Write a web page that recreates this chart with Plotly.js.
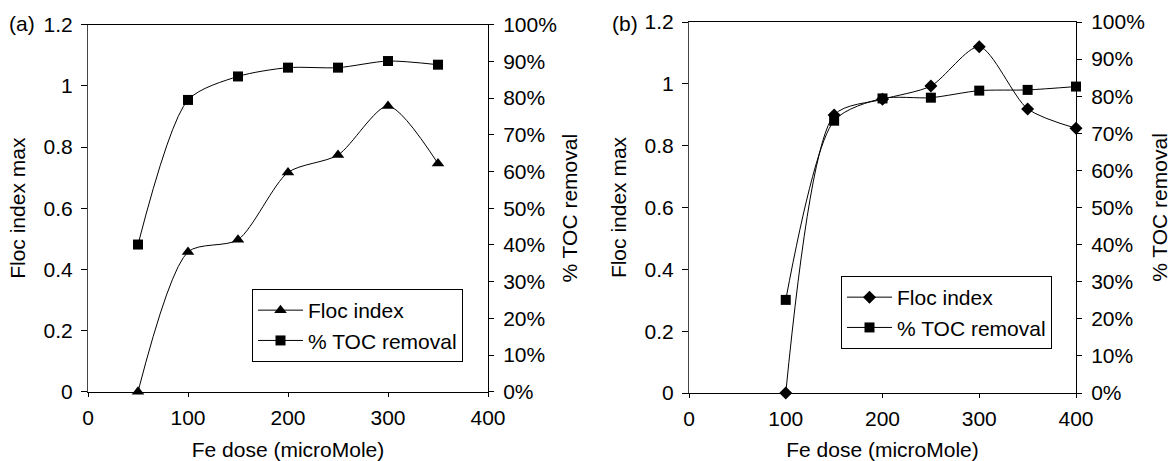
<!DOCTYPE html>
<html>
<head>
<meta charset="utf-8">
<script src="https://cdn.plot.ly/plotly-3.0.1.min.js"></script>
<style>html,body{margin:0;padding:0;background:#fff;}</style>
</head>
<body>
<div id="chart" style="width:1171px;height:461px;"></div>
<script>
// Panel (a)
const doseA = [50, 100, 150, 200, 250, 300, 350];
const flocA = [0, 0.457, 0.497, 0.717, 0.774, 0.934, 0.746];
const tocA  = [40.1, 79.5, 85.9, 88.3, 88.3, 90.1, 89.1];
// Panel (b)
const doseB = [100, 150, 200, 250, 300, 350, 400];
const flocB = [0, 0.899, 0.950, 0.993, 1.120, 0.919, 0.856];
const tocB  = [25.1, 73.4, 79.4, 79.6, 81.5, 81.7, 82.6];

const seriesNames = ['Floc index', '% TOC removal'];
const panelLabels = ['(a)', '(b)'];
const xTitle = 'Fe dose (microMole)';
const yTitle = 'Floc index max';
const y2Title = '% TOC removal';

const W = 1171, H = 461;
const FS = 21;
const FONT = 'Liberation Sans, Arial, Helvetica, sans-serif';
const lineStyle = {shape: 'spline', smoothing: 0.75, color: '#000', width: 1};

const traces = [
  {x: doseA, y: flocA, name: seriesNames[0], mode: 'lines+markers', line: lineStyle,
   marker: {symbol: 'triangle-up', size: 11, color: '#000'}, xaxis: 'x', yaxis: 'y',
   legend: 'legend', legendgroup: 'a1', cliponaxis: false},
  {x: doseA, y: tocA, name: seriesNames[1], mode: 'lines+markers', line: lineStyle,
   marker: {symbol: 'square', size: 10, color: '#000'}, xaxis: 'x', yaxis: 'y2',
   legend: 'legend', legendgroup: 'a2', cliponaxis: false},
  {x: doseB, y: flocB, name: seriesNames[0], mode: 'lines+markers', line: lineStyle,
   marker: {symbol: 'diamond', size: 10, color: '#000'}, xaxis: 'x2', yaxis: 'y4',
   legend: 'legend2', legendgroup: 'b1', cliponaxis: false},
  {x: doseB, y: tocB, name: seriesNames[1], mode: 'lines+markers', line: lineStyle,
   marker: {symbol: 'square', size: 10, color: '#000'}, xaxis: 'x2', yaxis: 'y5',
   legend: 'legend2', legendgroup: 'b2', cliponaxis: false}
];

function xAx(dom, anchor) {
  return {domain: dom, anchor: anchor, range: [0, 400], tick0: 0, dtick: 100,
    ticks: 'outside', ticklen: 4, tickcolor: '#000', showline: true, linecolor: '#000',
    linewidth: 1, mirror: true, showgrid: false, zeroline: false, ticklabelstandoff: 3,
    title: {text: xTitle, standoff: 18, font: {size: FS}}};
}
function yAx(dom, anchor, so) {
  return {domain: dom, anchor: anchor, range: [0, 1.2], tick0: 0, dtick: 0.2,
    ticks: 'outside', ticklen: 6, tickcolor: '#000', showline: true, linecolor: '#444',
    linewidth: 1, showgrid: false, zeroline: false, ticklabelstandoff: 4,
    title: {text: yTitle, standoff: so, font: {size: FS}}};
}
function y2Ax(over, anchor, so) {
  return {overlaying: over, anchor: anchor, side: 'right', range: [0, 100], tick0: 0, dtick: 10,
    ticksuffix: '%', ticks: 'outside', ticklen: 5, tickcolor: '#000', showline: true,
    linecolor: '#000', linewidth: 1, showgrid: false, zeroline: false, ticklabelstandoff: 5,
    title: {text: y2Title, standoff: so, font: {size: FS}}};
}
function y3Ax(over, anchor) {
  return {overlaying: over, anchor: anchor, side: 'right', range: [0, 100], tick0: 0, dtick: 10,
    ticks: 'inside', ticklen: 5, tickcolor: '#000', showticklabels: false, showline: false,
    showgrid: false, zeroline: false};
}

const legendBase = {xanchor: 'left', yanchor: 'top', bordercolor: '#000', borderwidth: 1,
  bgcolor: '#fff', traceorder: 'grouped', tracegroupgap: 0, itemwidth: 45,
  font: {size: FS}};

const layout = {
  width: W, height: H,
  margin: {l: 0, r: 0, t: 0, b: 0},
  paper_bgcolor: '#fff', plot_bgcolor: 'rgba(0,0,0,0)',
  font: {family: FONT, size: FS, color: '#000'},
  showlegend: true,
  xaxis: xAx([88 / W, 488 / W], 'y'),
  yaxis: yAx([1 - 391.7 / H, 1 - 24.7 / H], 'x', 12),
  yaxis2: y2Ax('y', 'x', 6),
  yaxis3: y3Ax('y', 'x'),
  xaxis2: xAx([689 / W, 1076 / W], 'y4'),
  yaxis4: yAx([1 - 393 / H, 1 - 22 / H], 'x2', 12),
  yaxis5: y2Ax('y4', 'x2', 10),
  yaxis6: y3Ax('y4', 'x2'),
  legend: Object.assign({x: 252 / W, y: 1 - 289 / H}, legendBase),
  legend2: Object.assign({x: 841 / W, y: 1 - 276 / H}, legendBase),
  annotations: [
    {text: panelLabels[0], xref: 'paper', yref: 'paper', x: 7 / W, y: 1 - 23.5 / H,
     xanchor: 'left', yanchor: 'middle', showarrow: false, font: {size: FS}},
    {text: panelLabels[1], xref: 'paper', yref: 'paper', x: 610 / W, y: 1 - 23.5 / H,
     xanchor: 'left', yanchor: 'middle', showarrow: false, font: {size: FS}}
  ]
};

Plotly.newPlot('chart', traces, layout, {displayModeBar: false, staticPlot: true});
</script>
</body>
</html>
